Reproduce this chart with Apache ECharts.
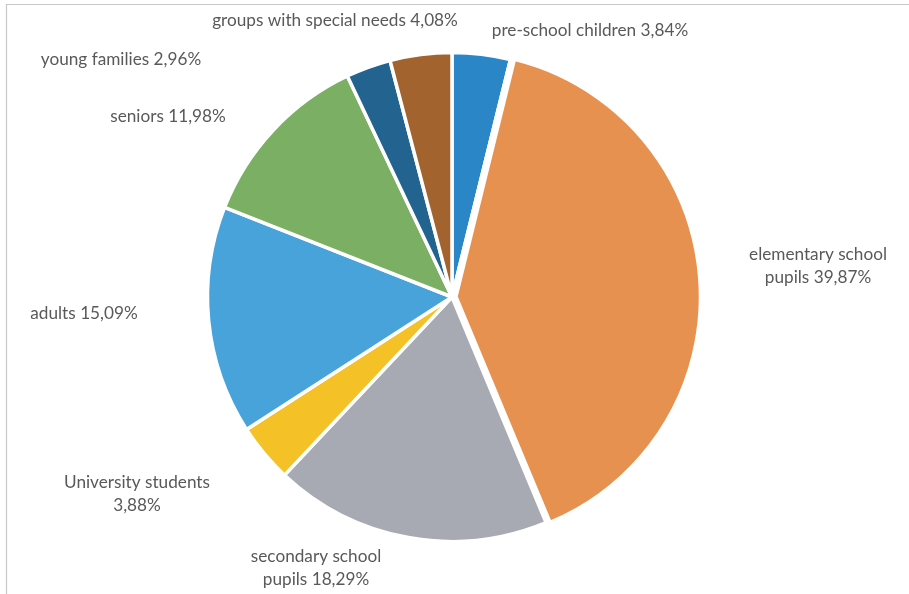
<!DOCTYPE html>
<html>
<head>
<meta charset="utf-8">
<style>
  html, body { margin: 0; padding: 0; background: #ffffff; }
  #chart { width: 909px; height: 594px; }
</style>
<script src="https://cdn.jsdelivr.net/npm/echarts@6/dist/echarts.min.js"></script>
</head>
<body>
<div id="chart"></div>
<script>
// Share of visitors by target group (%), clockwise from 12 o'clock
const categories = [
  'pre-school children',
  'elementary school\npupils',
  'secondary school\npupils',
  'University students\n',
  'adults',
  'seniors',
  'young families',
  'groups with special needs'
];
const shares = [3.84, 39.87, 18.29, 3.88, 15.09, 11.98, 2.96, 4.08];

const sliceColors = ['#2A86C6', '#E6914F', '#A7AAB2', '#F4C127', '#47A3DA', '#7AAF64', '#23638F', '#A3632F'];

// Label anchor points (px), one per slice, in the same order as the data
const labelAnchors = [
  [590, 30], [818, 266], [316, 568], [137, 494],
  [84, 313], [168, 116], [121, 59], [335, 20]
];

const CENTER = [452, 297];
const RADIUS = 244.5;
const EXPLODED = 1;      // index of the pulled-out slice
const EXPLODE_PX = 4;    // how far it is pulled out

const fmt = v => v.toFixed(2).replace('.', ',') + '%';

// centre of the pulled-out slice, shifted along its mid-angle
const total = shares.reduce((a, b) => a + b, 0);
const before = shares.slice(0, EXPLODED).reduce((a, b) => a + b, 0);
const midAngle = (before + shares[EXPLODED] / 2) / total * 2 * Math.PI;
const explodedCenter = [
  CENTER[0] + EXPLODE_PX * Math.sin(midAngle),
  CENTER[1] - EXPLODE_PX * Math.cos(midAngle)
];

const baseSeries = {
  type: 'pie',
  radius: RADIUS,
  startAngle: 90,
  clockwise: true,
  emphasis: { disabled: true },
  labelLine: { show: false }
};

const chart = echarts.init(document.getElementById('chart'), null, { renderer: 'canvas' });

chart.setOption({
  animation: false,
  backgroundColor: '#ffffff',
  graphic: [{
    type: 'rect',
    shape: { x: 6.5, y: 4.5, width: 1000, height: 1000 },
    style: { fill: 'none', stroke: '#C8C8C8', lineWidth: 1.2 },
    silent: true
  }],
  series: [
    Object.assign({}, baseSeries, {
      name: 'groups',
      center: CENTER,
      itemStyle: { borderColor: '#ffffff', borderWidth: 3.5 },
      label: {
        show: true,
        position: 'outside',
        fontFamily: 'Lato',
        fontSize: 17.2,
        lineHeight: 22.5,
        color: '#595959',
        align: 'center',
        formatter: p => {
          const name = categories[p.dataIndex];
          // two-line labels: the value follows the second line of the name
          if (name.endsWith('\n')) return name + fmt(p.value);
          return name + ' ' + fmt(p.value);
        }
      },
      labelLayout: p => ({
        x: labelAnchors[p.dataIndex][0],
        y: labelAnchors[p.dataIndex][1],
        align: 'center',
        verticalAlign: 'middle'
      }),
      data: shares.map((v, i) => ({
        name: categories[i],
        value: v,
        itemStyle: { color: i === EXPLODED ? '#ffffff' : sliceColors[i] }
      }))
    }),
    // the pulled-out slice, drawn on its own shifted centre
    Object.assign({}, baseSeries, {
      name: 'exploded',
      center: explodedCenter,
      silent: true,
      label: { show: false },
      data: shares.map((v, i) => ({
        name: categories[i],
        value: v,
        itemStyle: i === EXPLODED
          ? { color: sliceColors[i], borderColor: '#ffffff', borderWidth: 3.5 }
          : { color: 'rgba(0,0,0,0)', borderWidth: 0 }
      }))
    })
  ]
});
</script>
</body>
</html>
